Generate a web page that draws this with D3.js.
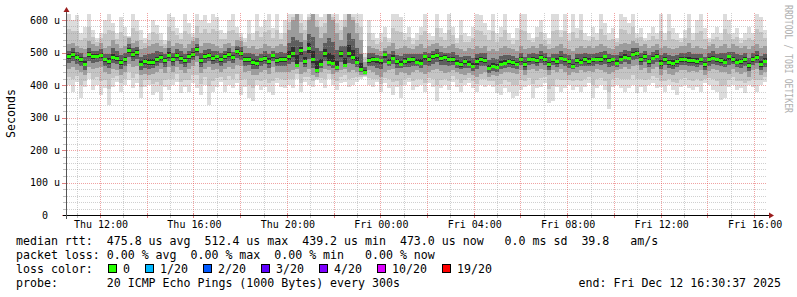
<!DOCTYPE html>
<html><head><meta charset="utf-8">
<script src="https://cdn.jsdelivr.net/npm/d3@7"></script>
<style>
html,body{margin:0;padding:0;background:#fff;}
svg{display:block;}
text{font-family:"DejaVu Sans Mono",monospace;white-space:pre;}
</style>
</head><body>
<svg id="c" width="797" height="297" xml:space="preserve"></svg>
<script>
// ---- data (microseconds), one value per ~10 min column ----
const median = [
487,495,485,479,464,493,487,489,492,477,472,485,482,469,477,506,495,500,464,472,469,470,477,485,475,492,477,492,482,475,487,495,510,475,487,
492,482,487,479,487,495,485,503,497,477,479,469,467,477,482,472,492,475,477,477,487,497,459,506,472,512,477,446,462,497,469,467,453,497,459,
497,485,469,448,439,475,479,477,475,495,469,482,472,464,472,477,479,469,467,487,477,487,492,482,485,479,477,467,462,472,464,456,472,479,475,
451,456,453,464,467,472,469,464,477,462,477,479,475,485,479,462,477,472,482,477,472,456,475,469,479,472,477,479,477,487,475,477,467,479,485,
482,495,497,477,487,472,482,489,467,477,469,467,472,479,479,475,475,472,477,462,477,482,477,475,469,487,477,469,472,477,459,479,485,462,473];
const smokeMax = [
620,600,615,560,580,620,570,545,560,600,620,590,560,610,580,550,620,600,570,545,560,600,585,560,540,620,610,575,560,620,590,560,620,600,615,
590,620,610,570,560,600,620,580,560,545,600,560,620,580,600,620,575,620,560,600,
620,620,620,620,600,620,620,620,610,620,620,620,620,600,620,620,620,620,620,
500,
600,560,545,560,580,545,620,620,610,560,580,545,560,580,620,560,550,620,575,560,620,580,545,600,560,550,580,620,615,590,
570,620,560,580,620,560,545,575,620,620,560,545,580,600,560,545,620,620,570,620,560,620,575,620,560,550,580,560,620,590,560,575,545,620,610,
590,620,560,575,545,560,580,560,620,560,620,575,560,545,570,620,560,600,620,575,545,560,580,560,620,600,560,575,545,560,580,560,620,610,570];
const smokeMin = [
400,380,410,360,395,420,385,400,370,390,340,395,410,380,400,415,390,405,360,395,400,370,380,350,395,385,400,410,375,395,380,405,390,370,400,
340,380,395,410,380,400,390,405,370,395,360,350,400,385,395,380,370,405,395,390,
400,390,420,380,410,400,395,415,405,390,420,400,385,405,410,395,400,410,420,
425,
400,395,410,380,405,390,370,395,360,400,410,385,395,400,380,405,395,350,390,400,385,410,395,380,400,405,390,380,400,395,
400,395,375,370,390,380,360,365,385,395,400,360,390,395,405,345,350,395,380,390,400,385,395,380,395,405,360,390,400,385,325,395,400,390,380,
390,400,375,395,380,400,405,390,395,380,400,385,370,395,400,390,385,395,380,405,400,385,380,355,360,395,400,385,390,375,400,395,380,400,410];
const smokeQ3 = [
525,530,520,515,510,535,525,520,530,515,520,540,525,515,520,545,530,535,510,515,520,525,530,520,515,535,520,530,525,515,525,535,545,520,530,
530,525,520,515,525,530,520,540,535,520,515,520,510,515,525,520,515,520,525,520,
570,600,620,560,540,600,620,580,545,560,620,600,560,540,580,620,600,560,540,
470,
520,515,510,505,515,520,530,510,515,520,515,510,520,525,515,520,525,530,520,515,520,525,515,510,505,515,510,520,515,520,
505,510,505,515,520,515,510,505,520,510,515,520,515,525,520,510,515,520,525,515,510,505,515,520,515,520,515,520,525,520,515,510,520,525,530,
525,535,530,520,525,515,520,525,515,520,515,510,515,520,520,530,515,520,515,510,520,525,515,520,525,515,525,520,515,520,510,520,525,515,520];
const smokeQ1 = [
450,455,445,440,430,455,450,452,455,440,435,448,445,430,440,465,455,460,430,435,432,435,440,448,438,455,440,455,445,438,450,458,470,438,450,
455,445,450,440,450,455,448,462,458,440,442,432,430,440,445,435,455,440,440,440,
440,445,450,435,440,450,430,425,440,450,445,435,440,445,450,440,445,440,430,
432,
445,440,430,425,440,445,450,430,440,438,432,440,445,440,435,440,445,450,442,438,440,445,440,435,430,438,432,425,435,440,
425,430,428,435,440,440,438,435,445,432,445,448,442,450,445,430,445,440,450,440,430,440,438,445,440,442,440,450,445,440,435,440,445,450,455,
450,460,462,445,452,438,450,455,432,445,435,432,440,445,445,440,442,440,445,430,442,450,445,440,440,435,450,440,435,440,425,445,450,430,440];

const yTicks = [0,100,200,300,400,500,600];
const yTickLabels = ["0  ","100 u","200 u","300 u","400 u","500 u","600 u"];
const lossLabels = ["0","1/20","2/20","3/20","4/20","10/20","19/20"];
const lossColors = ["#26ff00","#00b8ff","#0059ff","#5e00ff","#7e00ff","#dd00ff","#ff0000"];
const legendRows = [
 "median rtt:  475.8 us avg  512.4 us max  439.2 us min  473.0 us now   0.0 ms sd  39.8   am/s",
 "packet loss: 0.00 % avg  0.00 % max  0.00 % min   0.00 % now",
 "loss color:",
 "probe:       20 ICMP Echo Pings (1000 Bytes) every 300s"
];
const endLabel = "end: Fri Dec 12 16:30:37 2025";
const yTitle = "Seconds";
const watermark = "RRDTOOL / TOBI OETIKER";

// ---- scales ----
const svg = d3.select("#c");
const N = median.length;
const L = 67, R = 767, B = 215, T = 13;
const xi = d3.scaleLinear().domain([0, N]).range([L, R]);
const y = d3.scaleLinear().domain([0, 600]).range([215, 20]);
const tStart = new Date(Date.UTC(2025, 11, 11, 10, 35, 14));
const tEnd = new Date(Date.UTC(2025, 11, 12, 16, 33, 11));
const xt = d3.scaleUtc().domain([tStart, tEnd]).range([L, R]);

svg.append("rect").attr("width", 797).attr("height", 297).attr("fill", "#fff");
svg.append("clipPath").attr("id", "clip").append("rect")
  .attr("x", L).attr("y", T).attr("width", R - L).attr("height", B - T);
const plot = svg.append("g").attr("clip-path", "url(#clip)");

const idx = d3.range(N);
function band(lo, hi, color) {
  plot.append("g").selectAll("rect").data(idx).join("rect")
    .attr("x", i => xi(i)).attr("width", i => xi(i + 1) - xi(i))
    .attr("y", i => y(hi(i))).attr("height", i => Math.max(0, y(lo(i)) - y(hi(i))))
    .attr("fill", color).attr("shape-rendering", "crispEdges");
}
band(i => smokeMin[i], i => smokeMax[i], "#dcdcdc");
band(i => (smokeMin[i] + smokeQ1[i]) / 2, i => (smokeMax[i] + smokeQ3[i]) / 2, "#c4c4c4");
band(i => smokeQ1[i], i => smokeQ3[i], "#9c9c9c");
band(i => median[i] - (median[i] - smokeQ1[i]) / 2, i => median[i] + (smokeQ3[i] - median[i]) / 2, "#5e5e5e");
band(i => median[i] - (median[i] - smokeQ1[i]) / 5, i => median[i] + (smokeQ3[i] - median[i]) / 5, "#2e2e2e");

// median marks
plot.append("g").selectAll("rect").data(idx).join("rect")
  .attr("x", i => xi(i)).attr("width", i => xi(i + 1) - xi(i))
  .attr("y", i => y(median[i]) - 1.5).attr("height", 3)
  .attr("fill", lossColors[0]).attr("shape-rendering", "crispEdges");

// ---- grid (drawn over data) ----
const grid = svg.append("g").attr("shape-rendering", "crispEdges");
const minorY = d3.range(20, 620, 20).filter(v => v % 100 !== 0);
grid.selectAll(".hmin").data(minorY).join("line")
  .attr("x1", L).attr("x2", R).attr("y1", v => Math.round(y(v)) + 0.5).attr("y2", v => Math.round(y(v)) + 0.5)
  .attr("stroke", "rgba(150,150,150,0.45)").attr("stroke-dasharray", "1,1");
grid.selectAll(".hmaj").data(yTicks.filter(v => v > 0)).join("line")
  .attr("x1", L).attr("x2", R).attr("y1", v => Math.round(y(v)) + 0.5).attr("y2", v => Math.round(y(v)) + 0.5)
  .attr("stroke", "rgba(225,70,70,0.5)").attr("stroke-dasharray", "1,1");
const hours = xt.ticks(d3.utcHour.every(1));
const minorX = hours.filter(d => d.getUTCHours() % 2 === 1);
const majorX = hours.filter(d => d.getUTCHours() % 2 === 0);
grid.selectAll(".vmin").data(minorX).join("line")
  .attr("x1", d => Math.round(xt(d)) + 0.5).attr("x2", d => Math.round(xt(d)) + 0.5)
  .attr("y1", T).attr("y2", B)
  .attr("stroke", "rgba(150,150,150,0.45)").attr("stroke-dasharray", "1,1");
grid.selectAll(".vmaj").data(majorX).join("line")
  .attr("x1", d => Math.round(xt(d)) + 0.5).attr("x2", d => Math.round(xt(d)) + 0.5)
  .attr("y1", T).attr("y2", B)
  .attr("stroke", "rgba(225,70,70,0.5)").attr("stroke-dasharray", "1,1");

// ticks
grid.selectAll(".tmin").data(minorX).join("line")
  .attr("x1", d => Math.round(xt(d)) + 0.5).attr("x2", d => Math.round(xt(d)) + 0.5)
  .attr("y1", 213).attr("y2", 218).attr("stroke", "#c0c0c0");
grid.selectAll(".tmaj").data(majorX).join("line")
  .attr("x1", d => Math.round(xt(d)) + 0.5).attr("x2", d => Math.round(xt(d)) + 0.5)
  .attr("y1", 213).attr("y2", 218).attr("stroke", "#e08080");
grid.selectAll(".ytmin").data(minorY).join("line")
  .attr("x1", 63).attr("x2", 67).attr("y1", v => Math.round(y(v)) + 0.5).attr("y2", v => Math.round(y(v)) + 0.5)
  .attr("stroke", "#c0c0c0");
grid.selectAll(".ytmaj").data(yTicks).join("line")
  .attr("x1", 62).attr("x2", 67).attr("y1", v => Math.round(y(v)) + 0.5).attr("y2", v => Math.round(y(v)) + 0.5)
  .attr("stroke", "#e08080");

// axes
svg.append("line").attr("x1", 63).attr("x2", 769).attr("y1", 215.5).attr("y2", 215.5)
  .attr("stroke", "#000").attr("shape-rendering", "crispEdges");
svg.append("line").attr("x1", 66.5).attr("x2", 66.5).attr("y1", 219).attr("y2", 11)
  .attr("stroke", "#555").attr("shape-rendering", "crispEdges");
svg.append("path").attr("d", "M769,212.5 L774,215.5 L769,218.5 Z").attr("fill", "#9a1c1c");
svg.append("path").attr("d", "M63.5,12 L66.5,7 L69.5,12 Z").attr("fill", "#9a1c1c");

// y labels
svg.append("g").selectAll("text").data(yTicks).join("text")
  .attr("xml:space", "preserve")
  .attr("x", 60).attr("y", v => y(v) + 3.5).attr("text-anchor", "end")
  .attr("font-size", "10px").attr("fill", "#000")
  .text((v, i) => yTickLabels[i]);

// x labels
const fmt = d3.utcFormat("%a %H:%M");
const labelTimes = hours.filter(d => d.getUTCHours() % 4 === 0);
svg.append("g").selectAll("text").data(labelTimes).join("text")
  .attr("x", d => xt(d) + 1).attr("y", 228).attr("text-anchor", "middle")
  .attr("font-size", "10px").attr("fill", "#000")
  .text(d => fmt(d));

// titles
svg.append("text").attr("transform", "translate(15,113.5) rotate(-90)")
  .attr("text-anchor", "middle").attr("font-size", "11.6px").attr("fill", "#000").text(yTitle);
svg.append("text").attr("transform", "translate(785,5) rotate(90)")
  .attr("font-size", "10.5px").attr("fill", "#b0b0b0")
  .attr("textLength", 108).attr("lengthAdjust", "spacingAndGlyphs").text(watermark);

// legend
const lg = svg.append("g").attr("font-size", "11.6px").attr("fill", "#000");
lg.selectAll("text.row").data(legendRows).join("text").attr("class", "row")
  .attr("xml:space", "preserve")
  .attr("x", 16).attr("y", (d, i) => 245 + i * 14).text(d => d);
let bx = 108;
const boxX = lossLabels.map(l => { const p = bx; bx += 15 + l.length * 7 + 15; return p; });
lg.selectAll("rect.box").data(lossLabels).join("rect").attr("class", "box")
  .attr("x", (d, i) => boxX[i] + 0.5).attr("y", 264.5).attr("width", 8).attr("height", 8)
  .attr("fill", (d, i) => lossColors[i]).attr("stroke", "#000").attr("stroke-width", 1);
lg.selectAll("text.ll").data(lossLabels).join("text").attr("class", "ll")
  .attr("x", (d, i) => boxX[i] + 15).attr("y", 273).text(d => d);
lg.append("text").attr("x", 781).attr("y", 287).attr("text-anchor", "end").text(endLabel);
</script>
</body></html>
